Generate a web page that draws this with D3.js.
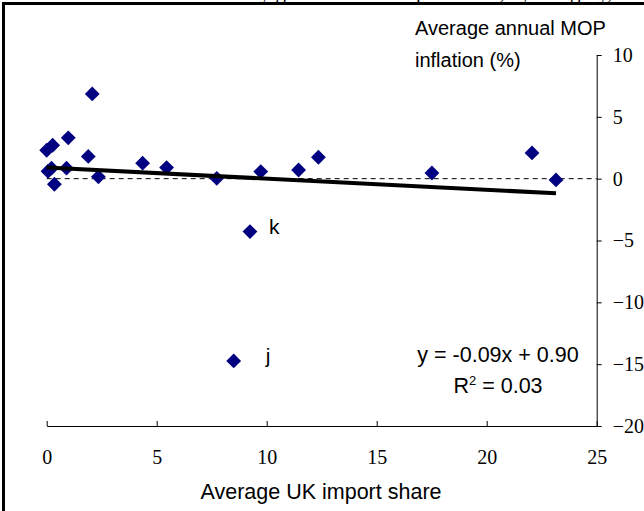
<!DOCTYPE html>
<html>
<head>
<meta charset="utf-8">
<script src="https://cdn.jsdelivr.net/npm/d3@7"></script>
<style>
body { margin: 0; background: #fff; }
svg { display: block; }
.serif { font-family: "Liberation Serif", "Times New Roman", "DejaVu Serif", serif; }
.sans { font-family: "Liberation Sans", Arial, sans-serif; }
</style>
</head>
<body>
<svg id="chart"></svg>
<script>
// UK import share (x) vs average annual MOP inflation (y)
let importShare = [0.0, 0.27, 0.98, 2.07, 1.89, 0.06, 0.22, 0.9, 0.35, 2.35, 4.36, 5.45, 7.73, 9.73, 11.45, 12.35, 17.51, 22.06, 23.15, 9.24, 8.5];
let inflation   = [2.3, 2.7, 3.3, 6.85, 1.8, 0.6, 0.85, 0.85, -0.45, 0.15, 1.25, 0.9, 0.03, 0.57, 0.7, 1.73, 0.46, 2.08, -0.1, -4.28, -14.74];
let pointLabels = ["", "", "", "", "", "", "", "", "", "", "", "", "", "", "", "", "", "", "", "k", "j"];
let xTicks = [0, 5, 10, 15, 20, 25];
let yTicks = [10, 5, 0, -5, -10, -15, -20];
let trend = {slope: -0.09, intercept: 0.90, r2: "0.03"};

let width = 644, height = 511,
    svg = d3.select("#chart").attr("width", width).attr("height", height),
    xScale = d3.scaleLinear([0, 25], [46.7, 596.7]),
    yScale = d3.scaleLinear([-20, 10], [426, 55]);

// frame (cropped)
svg.append("rect")
    .attr("x", 3.5).attr("y", 3.5)
    .attr("width", 700).attr("height", 600)
    .attr("fill", "none").attr("stroke", "#000").attr("stroke-width", 3);

// title, mostly cut off above the frame
svg.append("text")
    .attr("class", "serif")
    .attr("x", 392).attr("y", -1)
    .attr("text-anchor", "middle")
    .style("font-size", "21px")
    .text("Inflation by good and UK import share, by category,");

let xAxis = d3.axisBottom(xScale).tickValues(xTicks).tickSizeInner(-5).tickSizeOuter(0).tickPadding(24);
let yAxis = d3.axisRight(yScale).tickValues(yTicks).tickSizeInner(5).tickSizeOuter(0).tickPadding(11);

let gx = svg.append("g")
    .attr("transform", "translate(0," + yScale(-20) + ")")
    .call(xAxis);
let gy = svg.append("g")
    .attr("transform", "translate(" + xScale(25) + ",0)")
    .call(yAxis);
[gx, gy].forEach(function(g){
    g.attr("font-family", null).attr("font-size", null).attr("class", "serif");
    g.selectAll("text")
        .style("font-size", "20px")
        .attr("fill", "#000");
    g.selectAll("path, line").attr("stroke", "#000");
});

// zero reference line
svg.append("line")
    .attr("x1", xScale(0)).attr("x2", xScale(25))
    .attr("y1", yScale(0)).attr("y2", yScale(0))
    .attr("stroke", "#000").attr("stroke-width", 1)
    .attr("stroke-dasharray", "5,4");

// points
let pts = importShare.map(function(x, i){ return {x: x, y: inflation[i], label: pointLabels[i]}; });
svg.append("g").selectAll("path")
    .data(pts)
    .enter()
    .append("path")
    .attr("d", d3.symbol(d3.symbolDiamond2, 140))
    .attr("transform", function(d){ return "translate(" + xScale(d.x) + "," + yScale(d.y) + ")"; })
    .attr("fill", "#000080");

// trend line over the data range
let xr = d3.extent(importShare);
svg.append("line")
    .attr("x1", xScale(xr[0])).attr("y1", yScale(trend.intercept + trend.slope * xr[0]))
    .attr("x2", xScale(xr[1])).attr("y2", yScale(trend.intercept + trend.slope * xr[1]))
    .attr("stroke", "#000").attr("stroke-width", 4);

// point labels
let labelDx = {k: 19, j: 32};
svg.append("g").selectAll("text")
    .data(pts.filter(function(d){ return d.label; }))
    .enter()
    .append("text")
    .attr("class", "sans")
    .attr("x", function(d){ return xScale(d.x) + labelDx[d.label]; })
    .attr("y", function(d){ return yScale(d.y) + 2; })
    .style("font-size", "21px")
    .text(function(d){ return d.label; });

// equation
let eq = svg.append("text")
    .attr("class", "sans")
    .attr("x", 498).attr("text-anchor", "middle")
    .style("font-size", "21.5px");
eq.append("tspan").attr("x", 498).attr("y", 362)
    .text("y = " + trend.slope.toFixed(2) + "x + " + trend.intercept.toFixed(2));
let r2 = eq.append("tspan").attr("x", 498).attr("y", 393);
r2.append("tspan").text("R");
r2.append("tspan").attr("dy", -8).style("font-size", "13px").text("2");
r2.append("tspan").attr("dy", 8).text(" = " + trend.r2);

// axis titles
svg.append("text")
    .attr("class", "sans")
    .attr("x", 321).attr("y", 499)
    .attr("text-anchor", "middle")
    .style("font-size", "21.5px")
    .text("Average UK import share");
let yt = svg.append("text")
    .attr("class", "sans")
    .style("font-size", "20px");
yt.append("tspan").attr("x", 415).attr("y", 35).text("Average annual MOP");
yt.append("tspan").attr("x", 415).attr("y", 67).text("inflation (%)");
</script>
</body>
</html>
